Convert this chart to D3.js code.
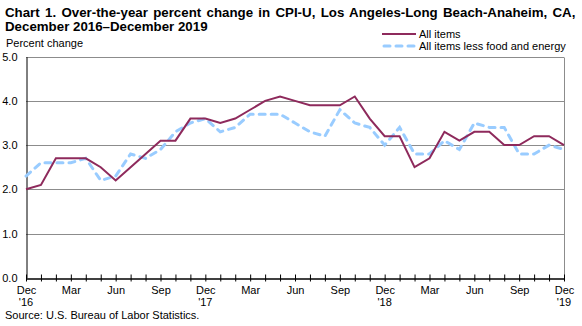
<!DOCTYPE html>
<html>
<head>
<meta charset="utf-8">
<script src="https://cdn.jsdelivr.net/npm/d3@7"></script>
<style>
html,body{margin:0;padding:0;background:#fff;}
svg{display:block;font-family:"Liberation Sans",Arial,sans-serif;}
</style>
</head>
<body>
<svg id="chart" width="582" height="326"></svg>
<script>
const months = ["Dec","Jan","Feb","Mar","Apr","May","Jun","Jul","Aug","Sep","Oct","Nov"];
const yearLabels = ["'16","'17","'18","'19"];
const allItems = [2.0,2.1,2.7,2.7,2.7,2.5,2.2,2.5,2.8,3.1,3.1,3.6,3.6,3.5,3.6,3.8,4.0,4.1,4.0,3.9,3.9,3.9,4.1,3.6,3.2,3.2,2.5,2.7,3.3,3.1,3.3,3.3,3.0,3.0,3.2,3.2,3.0];
const coreItems = [2.3,2.6,2.6,2.6,2.7,2.2,2.3,2.8,2.7,2.9,3.3,3.5,3.6,3.3,3.4,3.7,3.7,3.7,3.5,3.3,3.2,3.8,3.5,3.4,3.0,3.4,2.8,2.8,3.1,2.9,3.5,3.4,3.4,2.8,2.8,3.0,2.9];
const yTicks = [0,1,2,3,4,5];
const seriesNames = ["All items","All items less food and energy"];

const svg = d3.select("#chart");
const pLeft = 26, pRight = 564, pTop = 56.7, pBottom = 277.7;
const x = d3.scaleLinear().domain([0, allItems.length-1]).range([pLeft, pRight]);
const y = d3.scaleLinear().domain([0,5]).range([pBottom, pTop]);

// Title
svg.append("text").attr("x",5).attr("y",17).attr("font-size","13.3px").attr("font-weight","bold")
  .attr("word-spacing","1.6px")
  .text("Chart 1. Over-the-year percent change in CPI-U, Los Angeles-Long Beach-Anaheim, CA,");
svg.append("text").attr("x",5).attr("y",31).attr("font-size","13.3px").attr("font-weight","bold")
  .text("December 2016\u2013December 2019");
svg.append("text").attr("x",6).attr("y",47).attr("font-size","11px").text("Percent change");

// grid
svg.append("g").selectAll("line").data(yTicks.filter(d=>d>0)).join("line")
  .attr("x1",pLeft).attr("x2",pRight).attr("y1",d=>Math.round(y(d))+0.5).attr("y2",d=>Math.round(y(d))+0.5)
  .attr("stroke","#8c8c8c").attr("stroke-width",1);
// right border
svg.append("line").attr("x1",pRight+0.5).attr("x2",pRight+0.5).attr("y1",Math.round(y(5))+0.5).attr("y2",pBottom)
  .attr("stroke","#8c8c8c");

// y axis
const yAxis = d3.axisLeft(y).tickValues(yTicks).tickFormat(d3.format(".1f")).tickSize(0).tickPadding(9);
const gy = svg.append("g").attr("transform",`translate(${pLeft+0.5},0)`).call(yAxis);
gy.select(".domain").attr("stroke","#000");
gy.selectAll("text").attr("font-size","11px").attr("font-family","Liberation Sans, Arial, sans-serif").attr("fill","#000");

// x axis
const xAxis = d3.axisBottom(x).tickValues(d3.range(allItems.length))
  .tickFormat(i => i%3===0 ? months[i%12] : "").tickSizeOuter(0).tickSizeInner(7).tickPadding(1);
const gx = svg.append("g").attr("transform",`translate(0,${Math.round(pBottom)+0.5})`).call(xAxis);
gx.select(".domain").attr("stroke","#000").attr("stroke-width",1.3);
gx.selectAll(".tick line").attr("y1",-4).attr("y2",3).attr("stroke","#000");
gx.selectAll("text").attr("font-size","11px").attr("font-family","Liberation Sans, Arial, sans-serif").attr("fill","#000");
svg.append("g").selectAll("text").data(yearLabels).join("text")
  .attr("x",(d,i)=>x(i*12)).attr("y",306).attr("text-anchor","middle").attr("font-size","11px").text(d=>d);

// lines
const line = d3.line().x((d,i)=>x(i)).y(d=>y(d));
svg.append("path").datum(coreItems).attr("d",line).attr("fill","none")
  .attr("stroke","#99ccff").attr("stroke-width",3).attr("stroke-dasharray","6,6").attr("stroke-linecap","round");
svg.append("path").datum(allItems).attr("d",line).attr("fill","none")
  .attr("stroke","#8e2a5c").attr("stroke-width",2);

// legend
const lg = svg.append("g");
lg.append("line").attr("x1",382).attr("x2",416).attr("y1",34).attr("y2",34).attr("stroke","#8e2a5c").attr("stroke-width",2);
lg.append("line").attr("x1",384).attr("x2",416).attr("y1",46).attr("y2",46).attr("stroke","#99ccff").attr("stroke-width",3)
  .attr("stroke-dasharray","6,6").attr("stroke-linecap","round");
lg.selectAll("text").data(seriesNames).join("text").attr("x",419).attr("y",(d,i)=>38+i*12)
  .attr("font-size","11px").text(d=>d);

// source
svg.append("text").attr("x",5).attr("y",319).attr("font-size","11px").text("Source: U.S. Bureau of Labor Statistics.");
</script>
</body>
</html>
